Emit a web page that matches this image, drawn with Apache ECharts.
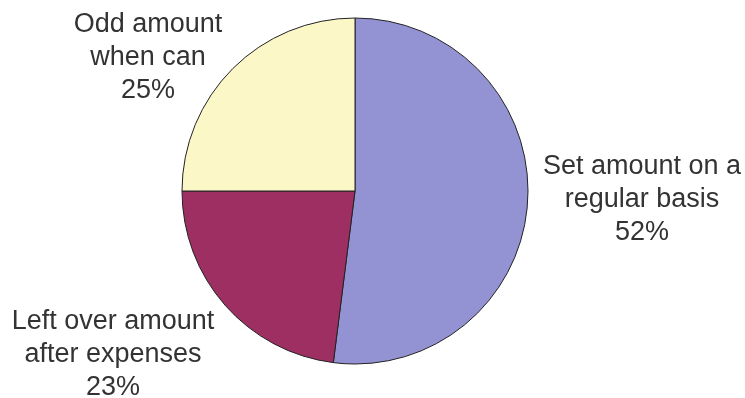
<!DOCTYPE html>
<html>
<head>
<meta charset="utf-8">
<script src="https://cdn.jsdelivr.net/npm/echarts@6/dist/echarts.min.js"></script>
<style>
  html, body { margin: 0; padding: 0; background: #fff; }
  #chart { width: 745px; height: 398px; }
</style>
</head>
<body>
<div id="chart"></div>
<script>
const categories = ['Set amount on a\nregular basis', 'Left over amount\nafter expenses', 'Odd amount\nwhen can'];
const shares = [52, 23, 25];
const colors = ['#9393d3', '#9e2f62', '#fcf7c7'];
// label centres in pixels, same order as categories
const labelSpots = [[642, 200], [113, 355], [148, 58]];

const chart = echarts.init(document.getElementById('chart'));

chart.setOption({
  animation: false,
  series: [
    {
      type: 'pie',
      center: [355, 191],
      radius: 173,
      startAngle: 90,
      clockwise: true,
      itemStyle: { borderColor: '#222', borderWidth: 1 },
      label: {
        show: true,
        position: 'outside',
        formatter: '{b}\n{d}%',
        color: '#333',
        fontFamily: 'Liberation Sans, Arial, sans-serif',
        fontSize: 27,
        lineHeight: 33,
        align: 'center',
        overflow: 'none',
        width: 300
      },
      labelLine: { show: false },
      labelLayout: (p) => ({
        x: labelSpots[p.dataIndex][0],
        y: labelSpots[p.dataIndex][1],
        align: 'center',
        verticalAlign: 'middle'
      }),
      emphasis: { disabled: true },
      data: categories.map((name, i) => ({
        name,
        value: shares[i],
        itemStyle: { color: colors[i] }
      }))
    }
  ]
});
</script>
</body>
</html>
